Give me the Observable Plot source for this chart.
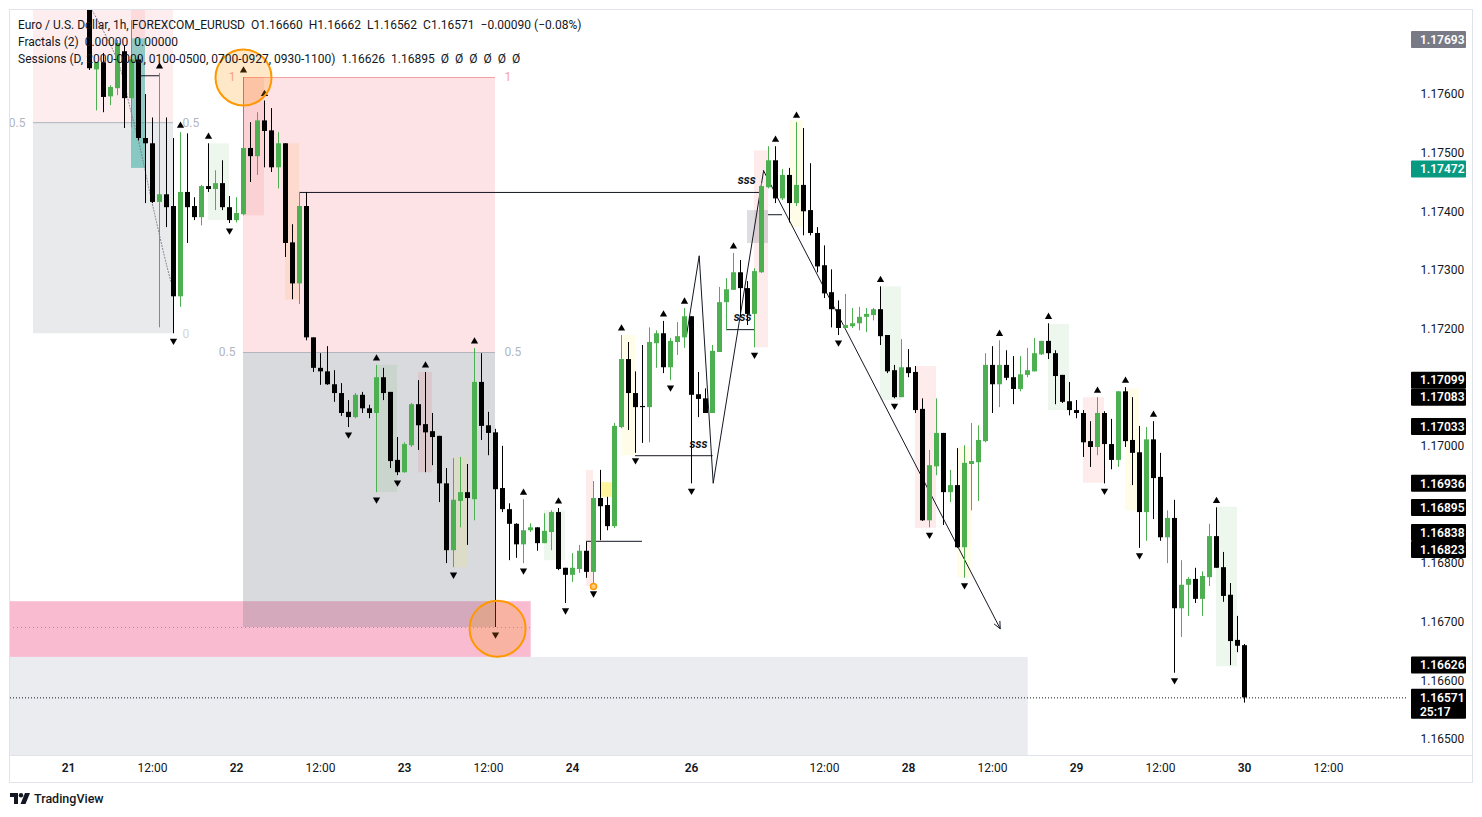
<!DOCTYPE html>
<html><head><meta charset="utf-8">
<script src="https://cdn.jsdelivr.net/npm/d3@7"></script>
<script src="https://cdn.jsdelivr.net/npm/@observablehq/plot@0.6"></script>
<style>
body{margin:0;background:#fff;font-family:Roboto,"Noto Sans",sans-serif;}
#wrap{position:relative;width:1482px;height:817px;overflow:hidden;background:#fff;}
#chart{position:absolute;left:0;top:0;}
.legend{position:absolute;left:18px;font-size:12px;color:#131722;white-space:nowrap;line-height:17px;}
.legend span{margin-right:6px;}
.bl{position:absolute;background:#e0e3eb;}
#tv{position:absolute;left:10px;top:791px;font-size:12.5px;color:#131722;font-weight:500;display:flex;align-items:center;gap:4px;}
</style></head><body>
<div id="wrap"><div id="chart"></div></div>
<script>
// ---------- DATA ----------
const opens = [1.17757,1.17642,1.17654,1.17596,1.17610,1.17673,1.17593,1.17659,1.17525,1.17516,
1.17416,1.17429,1.17409,1.17255,1.17433,1.17409,1.17390,1.17443,1.17438,1.17448,
1.17407,1.17385,1.17395,1.17508,1.17494,1.17555,1.17538,1.17475,1.17516,1.17347,
1.17277,1.17409,1.17185,1.17133,1.17127,1.17105,1.17090,1.17058,1.17049,1.17087,
1.17064,1.17056,1.17117,1.17092,1.16976,1.16955,1.17001,1.17071,1.17037,1.17025,
1.17017,1.16936,1.16822,1.16906,1.16921,1.16909,1.17109,1.17035,1.17023,1.16928,
1.16892,1.16867,1.16832,1.16856,1.16861,1.16834,1.16853,1.16887,1.16792,1.16780,
1.16790,1.16821,1.16785,1.16911,1.16899,1.16863,1.17032,1.17148,1.17090,1.17068,
1.17066,1.17175,1.17192,1.17134,1.17177,1.17185,1.17221,1.17088,1.17081,1.17056,
1.17160,1.17245,1.17266,1.17296,1.17269,1.17225,1.17296,1.17441,1.17487,1.17422,
1.17462,1.17414,1.17445,1.17402,1.17363,1.17308,1.17262,1.17233,1.17201,1.17204,
1.17209,1.17220,1.17223,1.17233,1.17189,1.17129,1.17083,1.17134,1.17126,1.17063,
1.16873,1.16965,1.17022,1.16921,1.16933,1.16827,1.16969,1.16972,1.17008,1.17138,
1.17105,1.17138,1.17117,1.17097,1.17121,1.17127,1.17156,1.17179,1.17158,1.17121,
1.17076,1.17061,1.17056,1.17008,1.16998,1.17056,1.17003,1.16976,1.17093,1.17010,
1.16989,1.16887,1.17011,1.16947,1.16844,1.16877,1.16723,1.16763,1.16773,1.16739,
1.16776,1.16846,1.16793,1.16746,1.16669,1.16660];
const highs = [1.17769,1.17654,1.17670,1.17615,1.17692,1.17683,1.17726,1.17666,1.17600,1.17560,
1.17636,1.17560,1.17525,1.17535,1.17533,1.17424,1.17445,1.17516,1.17470,1.17487,
1.17426,1.17424,1.17629,1.17552,1.17569,1.17589,1.17576,1.17535,1.17516,1.17378,
1.17433,1.17433,1.17185,1.17158,1.17170,1.17129,1.17107,1.17078,1.17090,1.17092,
1.17070,1.17138,1.17133,1.17092,1.17015,1.17006,1.17073,1.17112,1.17126,1.17056,
1.17017,1.16962,1.16979,1.16981,1.16969,1.17167,1.17158,1.17058,1.17029,1.17000,
1.16902,1.16868,1.16909,1.16868,1.16861,1.16885,1.16890,1.16894,1.16792,1.16817,
1.16831,1.16836,1.16940,1.16959,1.16913,1.17039,1.17189,1.17177,1.17127,1.17172,
1.17202,1.17197,1.17213,1.17184,1.17211,1.17235,1.17221,1.17126,1.17098,1.17172,
1.17271,1.17286,1.17329,1.17317,1.17281,1.17303,1.17448,1.17511,1.17511,1.17472,
1.17474,1.17552,1.17542,1.17482,1.17373,1.17342,1.17301,1.17248,1.17259,1.17235,
1.17237,1.17235,1.17235,1.17272,1.17189,1.17138,1.17182,1.17165,1.17136,1.17081,
1.16993,1.17081,1.17022,1.16959,1.16996,1.17001,1.17039,1.17035,1.17158,1.17170,
1.17180,1.17163,1.17153,1.17153,1.17167,1.17184,1.17179,1.17209,1.17163,1.17121,
1.17109,1.17078,1.17061,1.17042,1.17083,1.17059,1.17046,1.17093,1.17100,1.17083,
1.17034,1.17032,1.17042,1.16988,1.16890,1.16908,1.16805,1.16776,1.16792,1.16786,
1.16867,1.16895,1.16819,1.16766,1.16710,1.16662];
const lows = [1.17641,1.17572,1.17569,1.17581,1.17598,1.17542,1.17543,1.17521,1.17414,1.17414,
1.17202,1.17373,1.17192,1.17237,1.17346,1.17385,1.17376,1.17433,1.17402,1.17402,
1.17380,1.17381,1.17393,1.17450,1.17462,1.17475,1.17467,1.17439,1.17322,1.17250,
1.17242,1.17180,1.17126,1.17104,1.17104,1.17075,1.17051,1.17032,1.17047,1.17056,
1.17047,1.16921,1.17078,1.16962,1.16950,1.16954,1.16998,1.16993,1.16955,1.16967,
1.16904,1.16800,1.16793,1.16861,1.16831,1.16873,1.17010,1.16984,1.16691,1.16887,
1.16805,1.16809,1.16800,1.16853,1.16821,1.16834,1.16822,1.16788,1.16732,1.16768,
1.16783,1.16775,1.16761,1.16839,1.16856,1.16860,1.17030,1.17027,1.16988,1.17005,
1.17006,1.17133,1.17124,1.17112,1.17155,1.17167,1.16936,1.17049,1.17056,1.17056,
1.17160,1.17197,1.17266,1.17220,1.17206,1.17168,1.17295,1.17439,1.17414,1.17419,
1.17381,1.17409,1.17359,1.17359,1.17296,1.17252,1.17202,1.17189,1.17201,1.17201,
1.17197,1.17194,1.17214,1.17172,1.17124,1.17081,1.17083,1.17117,1.17056,1.16872,
1.16861,1.16950,1.16865,1.16904,1.16826,1.16775,1.16890,1.16906,1.17006,1.17056,
1.17066,1.17112,1.17071,1.17093,1.17117,1.17127,1.17155,1.17148,1.17071,1.17073,
1.17052,1.17047,1.16981,1.16964,1.16984,1.16936,1.16960,1.16964,1.16998,1.16933,
1.16826,1.16838,1.16875,1.16838,1.16800,1.16613,1.16674,1.16710,1.16732,1.16710,
1.16761,1.16792,1.16734,1.16626,1.16648,1.16562];
const closes = [1.17644,1.17654,1.17595,1.17612,1.17687,1.17593,1.17659,1.17525,1.17516,1.17416,
1.17429,1.17407,1.17255,1.17433,1.17407,1.17390,1.17443,1.17438,1.17448,1.17407,
1.17385,1.17397,1.17508,1.17494,1.17555,1.17537,1.17475,1.17516,1.17346,1.17277,
1.17409,1.17185,1.17133,1.17127,1.17105,1.17090,1.17056,1.17049,1.17087,1.17064,
1.17056,1.17117,1.17090,1.16974,1.16955,1.17003,1.17071,1.17035,1.17023,1.17015,
1.16936,1.16822,1.16908,1.16921,1.16911,1.17109,1.17034,1.17022,1.16926,1.16892,
1.16867,1.16832,1.16856,1.16861,1.16834,1.16855,1.16887,1.16790,1.16780,1.16792,
1.16821,1.16785,1.16911,1.16897,1.16863,1.17034,1.17148,1.17090,1.17066,1.17066,
1.17177,1.17192,1.17134,1.17179,1.17187,1.17221,1.17087,1.17080,1.17056,1.17162,
1.17245,1.17267,1.17296,1.17269,1.17225,1.17298,1.17443,1.17487,1.17422,1.17462,
1.17414,1.17445,1.17400,1.17363,1.17306,1.17260,1.17233,1.17201,1.17206,1.17209,
1.17220,1.17225,1.17233,1.17187,1.17127,1.17083,1.17134,1.17124,1.17061,1.16873,
1.16967,1.17022,1.16921,1.16933,1.16827,1.16971,1.16974,1.17010,1.17138,1.17105,
1.17138,1.17116,1.17097,1.17122,1.17129,1.17158,1.17179,1.17158,1.17119,1.17075,
1.17061,1.17056,1.17006,1.16998,1.17056,1.17003,1.16976,1.17093,1.17008,1.16988,
1.16887,1.17011,1.16945,1.16844,1.16877,1.16723,1.16763,1.16773,1.16739,1.16778,
1.16846,1.16792,1.16744,1.16667,1.16659,1.16571];

// Fractal indicator: bar indices flagged as up / down fractals
const upFractals = [10,13,17,22,25,41,48,55,62,67,76,82,85,92,98,101,113,130,137,144,148,152,161];
const downFractals = [12,20,37,41,44,52,58,62,68,72,78,83,86,95,107,115,120,125,145,150,155];

// Time axis (bar index of each label) and labels
const timeTickBars = [-3,9,21,33,45,57,69,86,105,117,129,141,153,165,177];
const timeTickLabels = ["21","12:00","22","12:00","23","12:00","24","26","12:00","28","12:00","29","12:00","30","12:00"];
// Price axis ticks
const priceTicks = [1.165,1.166,1.167,1.168,1.170,1.172,1.173,1.174,1.175,1.176];

// Fibonacci boxes: [startBar, endBar, price at 1, price at 0.5, price at 0]
const fibs = [[-8,12,1.17912,1.17552,1.17192],[22,58,1.17629,1.17160,1.16691]];
// Zones: [kind, startBar, endBar, topPrice, bottomPrice]
const zones = [["range",-12,134.1,1.16640,1.16470],["demand",-12,63.1,1.16735,1.16640]];
// Session boxes: [session, startBar, endBar, high, low]
const sessions = [
 ["london",6,8,1.17770,1.17695],["ny",6,8,1.17695,1.17474],["asia",17,20,1.17516,1.17385],
 ["london",22,25,1.17629,1.17393],["nyam",28,30,1.17516,1.17249],["asia",41,44,1.17138,1.16921],
 ["london",47,49,1.17126,1.16955],["nypm",52,54,1.16981,1.16793],["asia",65,68,1.16890,1.16805],
 ["london",71,72,1.16959,1.16761],["flag",73,75,1.16938,1.16913],["nypm",76,78,1.17189,1.16984],
 ["london",95,97,1.17504,1.17168],["mid",94,97,1.17402,1.17346],["nypm",100,102,1.17555,1.17373],
 ["asia",113,116,1.17272,1.17078],["london",118,121,1.17136,1.16860],["nypm",124,126,1.16998,1.16776],
 ["asia",137,140,1.17208,1.17061],["london",142,145,1.17083,1.16937],["nypm",148,150,1.17098,1.16890],
 ["asia",161,164,1.16896,1.16624]];
// Horizontal levels: [startBar, endBar, price, label]
const levels = [[30,96.3,1.17433,"sss"],[78,89.1,1.16984,"sss"],[91,95,1.17199,"sss"],
 [71,79,1.16838,""],[7,10,1.17632,""],[97,99,1.17395,""]];
const sssBars = [93.9,87,93.3];
// Zig-zag path (bar, price); last segment is an arrow
const zigBars = [85.3,87.1,89.1,96.3,130.1];
const zigPrices = [1.17190,1.17325,1.16937,1.17470,1.16689];
// dotted curve top-left
const curveBars = [0.4,4,5.9,7,9.1,11.1,12];
const curvePrices = [1.17743,1.17658,1.17572,1.17521,1.17407,1.17305,1.17266];
// highlighted circles (bar, price)
const circleBars = [22,58.3];
const circlePrices = [1.17629,1.16689];
const dotBar = 72, dotPrice = 1.16761;
// price scale labels
const scaleLabels = [1.17693,1.17472,1.17099,1.17083,1.17033,1.16936,1.16895,1.16838,1.16823,1.16626,1.16571];
const scaleKinds = ["gray","teal","line","line","line","line","line","line","line","line","last"];
const lastPrice = 1.16571, countdown = "25:17";

// ---------- LAYOUT ----------
const W = 1482, H = 785, mL = 10, mR = 74, mT = 10, mB = 30;
const xMin = -79/7, xMax = 1319/7;
const yMin = 1.164727, yMax = 1.177433;
const pxPrice = (yMax - yMin) / (H - mT - mB);
const green = "#4caf50";

const candles = opens.map((o,i)=>({i,o,h:highs[i],l:lows[i],c:closes[i]}));
const col = d => d.c >= d.o ? green : "#000000";
const bodies = candles.map(d=>{const t=Math.max(d.o,d.c), b=Math.min(d.o,d.c); return {...d, t, b: (t-b)<pxPrice ? t-pxPrice : b};});

const sessColor = {asia:["#4caf50",0.10], london:["#f23645",0.10], ny:["#26a69a",0.5], nyam:["#ff9800",0.10], nypm:["#ffeb3b",0.12], mid:["#787b86",0.25], flag:["#fff176",0.7]};
const sessObjs = sessions.map(([k,a,b,t,l])=>({k,a,b,t,l}));
const fibObjs = fibs.map(([a,b,p1,p5,p0],j)=>({a,b,p1,p5,p0,j}));
const lvlObjs = levels.map(([a,b,p,lab])=>({a,b,p,lab}));
const sssObjs = lvlObjs.filter(d=>d.lab).map((d,j)=>({x:sssBars[j],p:d.p,lab:d.lab}));
const zig = zigBars.map((x,j)=>({x,p:zigPrices[j]}));
const curve = curveBars.map((x,j)=>({x,p:curvePrices[j]}));
const circles = circleBars.map((x,j)=>({x,p:circlePrices[j]}));
const zoneObjs = zones.map(([k,a,b,t,l])=>({k,a,b,t,l}));
const inView = p => p <= yMax && p >= yMin;

const days = timeTickBars.filter((b,j)=>timeTickLabels[j]!=="12:00");
const hours = timeTickBars.filter((b,j)=>timeTickLabels[j]==="12:00");
const labelOf = b => timeTickLabels[timeTickBars.indexOf(b)];

const plot = Plot.plot({
  width: W, height: H, marginLeft: mL, marginRight: mR, marginTop: mT, marginBottom: mB,
  x: {domain: [xMin, xMax], axis: null},
  y: {domain: [yMin, yMax], axis: null},
  style: {fontFamily: "Roboto, 'Noto Sans', sans-serif", fontSize: "12px", color: "#131722", background: "#fff"},
  marks: [
    // zones
    Plot.rect(zoneObjs.filter(d=>d.k==="range"), {x1:"a", x2:"b", y1:"l", y2:"t", fill:"#ebecf0", clip:true}),
    Plot.rect(zoneObjs.filter(d=>d.k==="demand"), {x1:"a", x2:"b", y1:"l", y2:"t", fill:"#f8bbd0", clip:true}),
    Plot.ruleY(zoneObjs.filter(d=>d.k==="demand"), {x1:"a", x2:"b", y: d=>fibObjs[1].p0, stroke:"#9598a1", strokeDasharray:"1,3", clip:true}),
    // fib boxes
    Plot.rect(fibObjs, {x1:"a", x2:"b", y1:"p5", y2:"p1", fill:"#f23645", fillOpacity: d=>d.j===0?0.09:0.14, clip:true}),
    Plot.rect(fibObjs, {x1:"a", x2:"b", y1:"p0", y2:"p5", fill:"#787b86", fillOpacity: d=>d.j===0?0.16:0.28, clip:true}),
    Plot.ruleY(fibObjs, {x1:"a", x2:"b", y:"p5", stroke:"#b2b5be", strokeWidth:1, clip:true}),
    Plot.ruleY(fibObjs, {x1:"a", x2:"b", y:"p1", stroke:"#f7a1a1", strokeWidth:1, clip:true}),
    Plot.text(fibObjs, {x:"a", y:"p5", text:()=>"0.5", textAnchor:"end", dx:-8, fill:"#b2b5be", fontSize:12, clip:true}),
    Plot.text(fibObjs, {x:"b", y:"p5", text:()=>"0.5", textAnchor:"start", dx:9, fill:"#b2b5be", fontSize:12, clip:true}),
    Plot.text(fibObjs.filter(d=>inView(d.p1)), {x:"a", y:"p1", text:()=>"1", textAnchor:"end", dx:-8, fill:"#f7a1a1", fontSize:12, clip:true}),
    Plot.text(fibObjs.filter(d=>inView(d.p1)), {x:"b", y:"p1", text:()=>"1", textAnchor:"start", dx:9, fill:"#f7a1a1", fontSize:12, clip:true}),
    Plot.text(fibObjs.filter(d=>d.j===0), {x:"b", y:"p0", text:()=>"0", textAnchor:"start", dx:9, fill:"#d1d4dc", fontSize:12, clip:true}),
    // sessions
    Plot.rect(sessObjs, {x1:"a", x2:"b", y1:"l", y2:"t", fill: d=>sessColor[d.k][0], fillOpacity: d=>sessColor[d.k][1], clip:true}),
    // levels
    Plot.ruleY(lvlObjs, {x1:"a", x2:"b", y:"p", stroke:"#131722", strokeWidth:1, clip:true}),
    Plot.text(sssObjs, {x:"x", y:"p", text:"lab", dy:-12, fontStyle:"italic", fontWeight:"bold", fontSize:12, fill:"#131722"}),
    // dotted curve
    Plot.line(curve, {x:"x", y:"p", stroke:"#787b86", strokeDasharray:"1,2", strokeWidth:1, curve:"catmull-rom", clip:true}),
    // zigzag
    Plot.line(zig.slice(0,4), {x:"x", y:"p", stroke:"#131722", strokeWidth:1}),
    Plot.arrow([{a:zig[3],b:zig[4]}], {x1:d=>d.a.x, y1:d=>d.a.p, x2:d=>d.b.x, y2:d=>d.b.p, stroke:"#131722", strokeWidth:1, headLength:11, headAngle:50}),
    // candles
    Plot.ruleX(candles, {x:"i", y1:"l", y2:"h", stroke: col, strokeWidth:1, clip:true}),
    Plot.rect(bodies, {x1:d=>d.i-0.5, x2:d=>d.i+0.5, insetLeft:1.5, insetRight:0.5, y1:"b", y2:"t", fill: col, clip:true}),
    // fractals
    Plot.dot(upFractals, {x:d=>d, y:d=>highs[d], symbol:"triangle", r:2.7, fill:"#000", dy:-7, clip:true}),
    Plot.dot(downFractals, {x:d=>d, y:d=>lows[d], symbol:"triangle", r:2.7, fill:"#000", dy:7, rotate:180, clip:true}),
    // circles
    Plot.dot(circles, {x:"x", y:"p", r:28, fill:"#ff9800", fillOpacity:0.22, stroke:"#ff9800", strokeWidth:2}),
    Plot.dot([0], {x:()=>dotBar, y:()=>dotPrice, r:3, fill:"#ffcc80", stroke:"#ff9800", strokeWidth:1.5}),
    // current price line
    Plot.ruleY([lastPrice], {y:d=>d, x1:xMin, x2:xMax, stroke:"#131722", strokeDasharray:"1,2", strokeWidth:1}),
    // axes
    Plot.axisX(days, {anchor:"bottom", tickSize:0, tickPadding:8, tickFormat:labelOf, fontSize:12, fontWeight:600, fill:"#131722"}),
    Plot.axisX(hours, {anchor:"bottom", tickSize:0, tickPadding:8, tickFormat:labelOf, fontSize:12, fill:"#131722"}),
    Plot.axisY(priceTicks, {anchor:"right", tickSize:0, tickPadding:12, tickFormat:d3.format(".5f"), fontSize:12, fill:"#131722"})
  ]
});
document.getElementById("chart").appendChild(plot);

// price scale labels positioned through the plot's y scale
const ys = plot.scale("y");
const Y = ys.apply ? (v=>ys.apply(v)) : d3.scaleLinear(ys.domain, ys.range);
const bg = {gray:"#787b86", teal:"#089981", line:"#000000", last:"#000000"};
const items = scaleLabels.map((v,j)=>({v, k:scaleKinds[j], y:Y(v)})).sort((a,b)=>b.y-a.y);
for (let j=1;j<items.length;j++){ if (items[j].y > items[j-1].y - 17) items[j].y = items[j-1].y - 17; }
const svg = d3.select(plot);
const g = svg.append("g").attr("font-size",12).attr("font-family","Roboto, 'Noto Sans', sans-serif").attr("text-anchor","start");
items.forEach(d=>{
  const h = d.k==="last" ? 30 : 17;
  g.append("rect").attr("x",1411).attr("y",d.y-8.5).attr("width",55).attr("height",h).attr("fill",bg[d.k]).attr("rx",1);
  g.append("text").attr("x",1420).attr("y",d.y).attr("dy","0.35em").attr("text-anchor","start").attr("fill","#fff").attr("font-weight",600).text(d.v.toFixed(5));
  if (d.k==="last") g.append("text").attr("x",1420).attr("y",d.y+14).attr("dy","0.35em").attr("text-anchor","start").attr("fill","#fff").attr("font-weight",600).text(countdown);
});
// frame lines
const wrap = document.getElementById("wrap");
[[10,9,1462,1],[10,755,1462,1],[10,782,1462,1],[1472,9,1,774],[9,9,1,774]].forEach(([l,t,w,h])=>{
  const d=document.createElement("div"); d.className="bl"; Object.assign(d.style,{left:l+"px",top:t+"px",width:w+"px",height:h+"px"}); wrap.appendChild(d);
});
// legend
const lines = [
  ["Euro / U.S. Dollar, 1h, FOREXCOM_EURUSD","O1.16660","H1.16662","L1.16562","C1.16571","\u22120.00090 (\u22120.08%)"],
  ["Fractals (2)","0.00000","0.00000"],
  ["Sessions (D, 2000-0000, 0100-0500, 0700-0927, 0930-1100)","1.16626","1.16895","\u00D8","\u00D8","\u00D8","\u00D8","\u00D8","\u00D8"]
];
lines.forEach((parts,j)=>{
  const d=document.createElement("div"); d.className="legend"; d.style.top=(17+17*j)+"px";
  parts.forEach(p=>{const s=document.createElement("span"); s.textContent=p; d.appendChild(s);});
  wrap.appendChild(d);
});
const tv=document.createElement("div"); tv.id="tv";
tv.innerHTML='<svg width="20" height="11" viewBox="0 0 20 11"><path d="M0 0h8v11h-4v-7h-4z" fill="#131722"/><circle cx="11" cy="2.2" r="2.2" fill="#131722"/><path d="M15 0h5l-4.5 11h-5z" fill="#131722"/></svg><span>TradingView</span>';
wrap.appendChild(tv);
</script></body></html>
